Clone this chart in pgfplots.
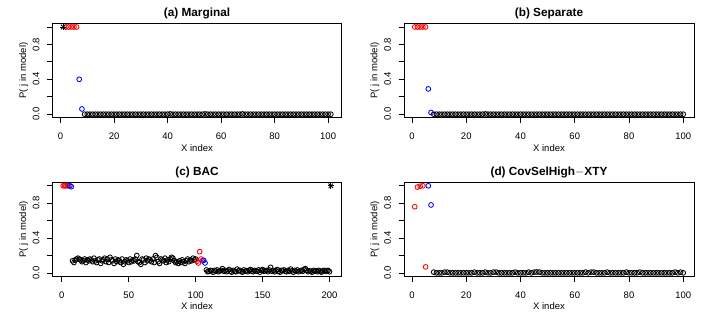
\documentclass[border=0pt]{standalone}
\usepackage{fontspec}
\setmainfont{Liberation Sans}
\usepackage{pgfplots}
\pgfplotsset{compat=1.18}
\pgfplotsset{
  /pgf/number format/assume math mode=true,
  rplot/.style={
    scale only axis, width=289pt, height=94.2pt,
    ymin=-0.04, ymax=1.04,
    axis line style={line width=0.8pt},
    tick align=outside, tick pos=left,
    major tick length=5.5pt,
    every tick/.style={line width=0.8pt, black},
    ytick={0,0.2,0.4,0.6,0.8,1},
    yticklabels={0.0,,0.4,,0.8,},
    tick label style={font=\fontsize{9.5}{11}\selectfont},
    yticklabel style={xshift=-11pt, rotate=90, anchor=center, inner sep=0pt},
    xticklabel style={anchor=center, yshift=-12.8pt, inner sep=0pt},
    label style={font=\fontsize{9.5}{11}\selectfont},
    xlabel style={at={(axis description cs:0.5,-0.318)}, anchor=center},
    ylabel style={at={(axis description cs:-0.1,0.5)}, anchor=center},
    title style={at={(axis description cs:0.5,1.045)}, anchor=center, font=\bfseries\fontsize{11.8}{14}\selectfont},
    xlabel={X index}, ylabel={P( j in model)},
    clip=false,
  },
  pt/.style={only marks, mark=o, mark size=2.4pt, mark options={line width=0.85pt}},
  ptk/.style={pt, black},
  ptr/.style={pt, red},
  ptb/.style={pt, blue},
  stp/.style={only marks, mark=+, mark size=3.2pt, black, mark options={line width=0.8pt}},
  stx/.style={only marks, mark=x, mark size=3.2pt, black, mark options={line width=0.8pt}},
}
\begin{document}
\begin{tikzpicture}[x=1pt,y=1pt]
\useasboundingbox (0,0) rectangle (706,318);
% (a) Marginal
\begin{axis}[rplot, at={(52.5pt,200.3pt)}, anchor=south west,
  xmin=-3, xmax=105, xtick={0,20,40,60,80,100}, title={(a) Marginal}]
\addplot[ptk] table {
x y
9 0
10 0
11 0
12 0
13 0
14 0
15 0
16 0
17 0
18 0
19 0
20 0
21 0
22 0
23 0
24 0
25 0
26 0
27 0
28 0
29 0
30 0
31 0
32 0
33 0
34 0
35 0
36 0
37 0
38 0
39 0
40 0
41 0.003
42 0
43 0
44 0
45 0
46 0
47 0
48 0
49 0
50 0
51 0
52 0
53 0
54 0.003
55 0
56 0
57 0
58 0
59 0
60 0
61 0
62 0
63 0
64 0
65 0
66 0
67 0
68 0.003
69 0
70 0
71 0
72 0
73 0
74 0
75 0
76 0
77 0
78 0
79 0
80 0
81 0
82 0
83 0
84 0
85 0
86 0
87 0
88 0
89 0
90 0
91 0
92 0
93 0
94 0
95 0
96 0
97 0
98 0
99 0
100 0
101 0
};
\addplot[ptr] table {
x y
2 1
3 1
4 1
5 1
6 1
};
\addplot[ptb] table {
x y
7 0.40
8 0.06
};
\addplot[stp] table {
x y
1 1
};
\addplot[stx] table {
x y
1 1
};
\end{axis}
% (b) Separate
\begin{axis}[rplot, at={(404pt,200.3pt)}, anchor=south west, width=290pt,
  xmin=-2.96, xmax=103.96, xtick={0,20,40,60,80,100}, title={(b) Separate}]
\addplot[ptk] table {
x y
8 0
9 0
10 0
11 0
12 0
13 0
14 0
15 0
16 0
17 0
18 0
19 0
20 0
21 0
22 0
23 0
24 0
25 0
26 0
27 0.003
28 0
29 0
30 0
31 0
32 0
33 0
34 0
35 0
36 0
37 0
38 0
39 0
40 0
41 0
42 0
43 0
44 0
45 0
46 0
47 0
48 0
49 0
50 0
51 0
52 0
53 0
54 0
55 0
56 0
57 0
58 0
59 0
60 0
61 0
62 0
63 0
64 0
65 0
66 0
67 0
68 0
69 0
70 0
71 0
72 0
73 0
74 0
75 0
76 0
77 0
78 0
79 0
80 0
81 0
82 0
83 0
84 0
85 0
86 0
87 0
88 0
89 0
90 0
91 0
92 0
93 0
94 0
95 0
96 0
97 0
98 0
99 0
100 0
};
\addplot[ptr] table {
x y
1 1
2 1
3 1
4 1
5 1
};
\addplot[ptb] table {
x y
6 0.29
7 0.02
};
\end{axis}
% (c) BAC
\begin{axis}[rplot, at={(52.5pt,41.5pt)}, anchor=south west,
  xmin=-7, xmax=209, xtick={0,50,100,150,200}, title={(c) BAC}]
\addplot[ptk] table {
x y
8 0.14
9 0.12
10 0.15
11 0.16
12 0.17
13 0.16
14 0.15
15 0.13
16 0.14
17 0.16
18 0.12
19 0.15
20 0.14
21 0.16
22 0.15
23 0.13
24 0.17
25 0.14
26 0.12
27 0.15
28 0.16
29 0.11
30 0.14
31 0.15
32 0.17
33 0.13
34 0.16
35 0.12
36 0.18
37 0.15
38 0.14
39 0.11
40 0.16
41 0.13
42 0.15
43 0.14
44 0.12
45 0.16
46 0.10
47 0.13
48 0.15
49 0.14
50 0.12
51 0.16
52 0.13
53 0.15
54 0.14
55 0.16
56 0.20
57 0.13
58 0.12
59 0.10
60 0.16
61 0.15
62 0.12
63 0.17
64 0.14
65 0.16
66 0.15
67 0.13
68 0.16
69 0.12
70 0.20
71 0.18
72 0.13
73 0.11
74 0.16
75 0.15
76 0.14
77 0.17
78 0.12
79 0.15
80 0.13
81 0.16
82 0.18
83 0.17
84 0.14
85 0.12
86 0.13
87 0.11
88 0.14
89 0.12
90 0.15
91 0.13
92 0.11
93 0.14
94 0.16
95 0.13
96 0.15
97 0.14
98 0.17
99 0.15
100 0.16
108 0.035
109 0.015
110 0.02
111 0.03
112 0.025
113 0.01
114 0.03
115 0.02
116 0.035
117 0.015
118 0.025
119 0.03
120 0.05
121 0.02
122 0.03
123 0.015
124 0.025
125 0.04
126 0.02
127 0.01
128 0.03
129 0.02
130 0.015
131 0.045
132 0.025
133 0.03
134 0.02
135 0.01
136 0.035
137 0.02
138 0.025
139 0.015
140 0.03
141 0.04
142 0.02
143 0.015
144 0.03
145 0.025
146 0.02
147 0.035
148 0.01
149 0.03
150 0.04
151 0.02
152 0.025
153 0.03
154 0.015
155 0.035
156 0.065
157 0.02
158 0.03
159 0.015
160 0.025
161 0.04
162 0.02
163 0.01
164 0.03
165 0.025
166 0.035
167 0.02
168 0.015
169 0.03
170 0.02
171 0.045
172 0.025
173 0.01
174 0.03
175 0.02
176 0.035
177 0.015
178 0.025
179 0.03
180 0.02
181 0.04
182 0.05
183 0.03
184 0.015
185 0.025
186 0.02
187 0.01
188 0.03
189 0.02
190 0.025
191 0.015
192 0.03
193 0.02
194 0.01
195 0.025
196 0.03
197 0.02
198 0.025
199 0.03
200 0.015
};
\addplot[ptr] table {
x y
1 1
2 1
3 1
4 1
5 1
101 0.135
102 0.115
103 0.245
104 0.16
105 0.14
};
\addplot[ptb] table {
x y
6 1
7 0.99
106 0.145
107 0.115
};
\addplot[stp] table {
x y
201 1
};
\addplot[stx] table {
x y
201 1
};
\end{axis}
% (d) CovSelHigh-XTY
\begin{axis}[rplot, at={(404pt,41.5pt)}, anchor=south west, width=290pt,
  xmin=-2.96, xmax=103.96, xtick={0,20,40,60,80,100}, title={(d) CovSelHigh$-$XTY}]
\addplot[ptk] table {
x y
8 0.01
9 0.002
10 0.002
11 0.002
12 0.01
13 0.01
14 0.002
15 0.002
16 0.002
17 0.002
18 0.002
19 0.002
20 0.002
21 0.002
22 0.002
23 0.01
24 0.002
25 0.002
26 0.002
27 0.01
28 0.002
29 0.002
30 0.01
31 0.01
32 0.002
33 0.002
34 0.002
35 0.002
36 0.002
37 0.002
38 0.01
39 0.002
40 0.002
41 0.002
42 0.002
43 0.01
44 0.002
45 0.01
46 0.012
47 0.01
48 0.002
49 0.002
50 0.002
51 0.002
52 0.002
53 0.002
54 0.002
55 0.002
56 0.002
57 0.002
58 0.002
59 0.002
60 0.002
61 0.002
62 0.002
63 0.002
64 0.01
65 0.002
66 0.01
67 0.01
68 0.002
69 0.002
70 0.002
71 0.002
72 0.01
73 0.002
74 0.002
75 0.002
76 0.002
77 0.002
78 0.002
79 0.01
80 0.002
81 0.002
82 0.002
83 0.002
84 0.01
85 0.002
86 0.002
87 0.002
88 0.002
89 0.002
90 0.002
91 0.002
92 0.002
93 0.002
94 0.002
95 0.002
96 0.002
97 0.01
98 0.002
99 0.01
100 0.002
};
\addplot[ptr] table {
x y
1 0.76
2 0.985
3 0.995
4 1.0
5 0.07
};
\addplot[ptb] table {
x y
6 1.0
7 0.78
};
\end{axis}
\end{tikzpicture}
\end{document}
